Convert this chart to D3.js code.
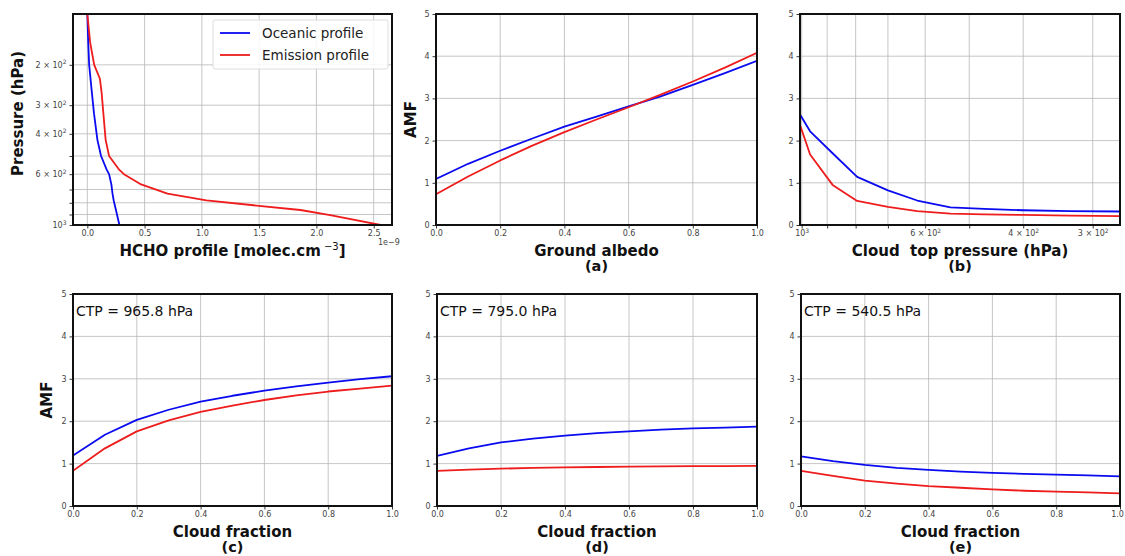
<!DOCTYPE html>
<html><head><meta charset="utf-8">
<script src="https://cdn.jsdelivr.net/npm/d3@7"></script>
<style>body{margin:0;background:#fff}svg{display:block;font-family:"DejaVu Sans",sans-serif}</style>
</head><body><svg id="c" width="1125" height="556"></svg>
<script>
// ---- Data ----
const profilePressure = [120,160,200,230,265,325,425,500,575,600,665,730,780,820,860,905,1000];
const oceanicProfile  = [0.0,0.008,0.016,0.028,0.04,0.058,0.088,0.12,0.17,0.19,0.21,0.22,0.23,0.24,0.25,0.26,0.28];
const emissionProfile = [0.0,0.025,0.06,0.11,0.125,0.14,0.16,0.19,0.28,0.32,0.47,0.70,1.04,1.45,1.86,2.12,2.56];

const albedo = [0,0.1,0.2,0.3,0.4,0.5,0.6,0.7,0.8,0.9,1.0];
const amfAlbedoOcean    = [1.09,1.45,1.76,2.05,2.33,2.57,2.81,3.05,3.32,3.60,3.89];
const amfAlbedoEmission = [0.73,1.15,1.53,1.88,2.20,2.50,2.79,3.09,3.40,3.73,4.08];

const ctp = [1005,965.8,880,795,700,620,540.5,470,400,330,268];
const amfCtpOcean    = [2.6,2.22,1.7,1.14,0.82,0.58,0.42,0.38,0.35,0.33,0.32];
const amfCtpEmission = [2.34,1.67,0.95,0.57,0.43,0.33,0.27,0.25,0.24,0.22,0.21];

const cloudFraction = [0,0.1,0.2,0.3,0.4,0.5,0.6,0.7,0.8,0.9,1.0];
const amfC_Ocean    = [1.19,1.68,2.03,2.27,2.46,2.60,2.72,2.82,2.91,2.99,3.06];
const amfC_Emission = [0.83,1.36,1.76,2.02,2.22,2.37,2.50,2.61,2.70,2.77,2.84];
const amfD_Ocean    = [1.18,1.36,1.50,1.59,1.66,1.72,1.76,1.80,1.83,1.85,1.87];
const amfD_Emission = [0.83,0.86,0.88,0.90,0.91,0.92,0.93,0.935,0.94,0.94,0.945];
const amfE_Ocean    = [1.17,1.06,0.97,0.90,0.85,0.81,0.78,0.76,0.74,0.72,0.70];
const amfE_Emission = [0.83,0.71,0.60,0.53,0.47,0.43,0.39,0.36,0.34,0.32,0.30];

const ctpLabels = ["CTP = 965.8 hPa","CTP = 795.0 hPa","CTP = 540.5 hPa"];
const seriesNames = ["Oceanic profile","Emission profile"];
const amfTicks = [0,1,2,3,4,5];
const fracTicks = [0,0.2,0.4,0.6,0.8,1.0];
const profXTicks = [0,0.5,1.0,1.5,2.0,2.5];
const profYGrid = [200,300,400,500,600,700,800,900,1000];
const profYLabels = {200:["2 × 10","2"],300:["3 × 10","2"],400:["4 × 10","2"],600:["6 × 10","2"],1000:["10","3"]};
const ctpGrid = [1000,900,800,700,600,500,400,300];
const ctpLabelsMap = {1000:["10","3"],600:["6 × 10","2"],400:["4 × 10","2"],300:["3 × 10","2"]};

// ---- Drawing ----
const svg = d3.select("#c");
svg.append("rect").attr("width",1125).attr("height",556).attr("fill","#fff");
const BLUE="#0a0af0", RED="#ee1c1c";
let clipId=0;

function expLabel(map){
  return function(sel){
    sel.each(function(d){
      const t=d3.select(this); t.text("");
      const v=map[d]; if(!v) return;
      t.append("tspan").text(v[0]);
      t.append("tspan").attr("dy",-3.5).attr("font-size",6).text(v[1]);
    });
  };
}

function panel(o){
  const g = svg.append("g");
  const x=o.x, y=o.y;
  const [x0,x1]=x.range(), [y1,y0]=y.range();
  const id="clip"+(clipId++);
  svg.append("clipPath").attr("id",id).append("rect")
    .attr("x",x0).attr("y",y0).attr("width",x1-x0).attr("height",y1-y0);
  g.selectAll(".gx").data(o.xGrid).join("line")
    .attr("x1",d=>x(d)).attr("x2",d=>x(d)).attr("y1",y0).attr("y2",y1)
    .attr("stroke","#b8b8b8").attr("stroke-width",0.8);
  g.selectAll(".gy").data(o.yGrid).join("line")
    .attr("y1",d=>y(d)).attr("y2",d=>y(d)).attr("x1",x0).attr("x2",x1)
    .attr("stroke","#b8b8b8").attr("stroke-width",0.8);
  const lg = g.append("g").attr("clip-path",`url(#${id})`);
  o.series.forEach(s=>{
    const line = o.swap
      ? d3.line().x(d=>x(d[1])).y(d=>y(d[0]))
      : d3.line().x(d=>x(d[0])).y(d=>y(d[1]));
    lg.append("path").datum(d3.zip(s.xs,s.ys)).attr("d",line)
      .attr("fill","none").attr("stroke",s.color).attr("stroke-width",1.8)
      .attr("stroke-linejoin","round");
  });
  const xt = g.append("g").attr("transform",`translate(0,${y1})`)
    .call(d3.axisBottom(x).tickValues(o.xTicks).tickSize(3.5).tickPadding(2).tickFormat(o.xFmt||(()=>"")));
  const yt = g.append("g").attr("transform",`translate(${x0},0)`)
    .call(d3.axisLeft(y).tickValues(o.yTicks).tickSize(3.5).tickPadding(3).tickFormat(o.yFmt||(()=>"")));
  [xt,yt].forEach(a=>{
    a.select(".domain").remove();
    a.selectAll("line").attr("stroke","#222").attr("stroke-width",0.9);
    a.selectAll("text").attr("font-size",8).attr("fill","#444").attr("font-family","DejaVu Sans");
  });
  if(o.xExp) xt.selectAll(".tick text").call(expLabel(o.xExp));
  if(o.yExp) yt.selectAll(".tick text").call(expLabel(o.yExp));
  if(o.lastTickShift) xt.selectAll(".tick text").filter((d,i,n)=>i===n.length-1).attr("dx",o.lastTickShift);
  g.append("rect").attr("x",x0).attr("y",y0).attr("width",x1-x0).attr("height",y1-y0)
    .attr("fill","none").attr("stroke","#111").attr("stroke-width",2);
  if(o.xLabel){
    const t=g.append("text").attr("x",(x0+x1)/2).attr("y",y1+31).attr("text-anchor","middle")
      .attr("font-size",15).attr("font-weight","bold").attr("fill","#111");
    o.xLabel(t);
  }
  if(o.sub){
    g.append("text").attr("x",(x0+x1)/2).attr("y",y1+46).attr("text-anchor","middle")
      .attr("font-size",14.5).attr("font-weight","bold").attr("fill","#111").text(o.sub);
  }
  if(o.yLabel){
    g.append("text").attr("transform",`translate(${o.yLabelX},${(y0+y1)/2+o.yLabelDy}) rotate(-90)`)
      .attr("text-anchor","middle").attr("font-size",15).attr("font-weight","bold")
      .attr("fill","#111").text(o.yLabel);
  }
  if(o.note){
    g.append("text").attr("x",x0+3).attr("y",y0+22).attr("font-size",14).attr("fill","#111").text(o.note);
  }
  return g;
}

const fmt1 = d3.format(".1f");
const top0=14, top1=225, bot0=294, bot1=506;

// Panel 0: profile
const p0x = d3.scaleLinear().domain([-0.125,2.66]).range([73,392]);
const p0y = d3.scaleLog().domain([1000,120]).range([top1,top0]);
const g0 = panel({x:p0x,y:p0y,swap:true,
  xGrid:profXTicks,yGrid:profYGrid,xTicks:profXTicks,xFmt:fmt1,
  yTicks:profYGrid,yExp:profYLabels,
  series:[{xs:profilePressure,ys:oceanicProfile,color:BLUE},{xs:profilePressure,ys:emissionProfile,color:RED}],
  xLabel:t=>{t.append("tspan").text("HCHO profile [molec.cm");
    t.append("tspan").attr("dy",-6).attr("font-size",10).attr("font-weight","normal").text(" −3");
    t.append("tspan").attr("dy",6).text("]");},
  yLabel:"Pressure (hPa)",yLabelX:23,yLabelDy:-6});
g0.append("text").attr("x",378).attr("y",245).attr("text-anchor","start")
  .attr("font-size",8).attr("fill","#444").text("1e−9");
const lgd = g0.append("g");
lgd.append("rect").attr("x",213).attr("y",20).attr("width",175).attr("height",49)
  .attr("fill","#fff").attr("fill-opacity",0.85).attr("stroke","#ddd").attr("rx",2);
[BLUE,RED].forEach((c,i)=>{
  lgd.append("line").attr("x1",220).attr("x2",250).attr("y1",33+i*22).attr("y2",33+i*22)
    .attr("stroke",c).attr("stroke-width",1.8);
  lgd.append("text").attr("x",262).attr("y",38+i*22).attr("font-size",13.5).attr("fill","#222").text(seriesNames[i]);
});

// Panel a
const pax = d3.scaleLinear().domain([0,1]).range([436,757]);
const pay = d3.scaleLinear().domain([0,5]).range([top1,top0]);
panel({x:pax,y:pay,xGrid:fracTicks,yGrid:amfTicks,xTicks:fracTicks,xFmt:fmt1,yTicks:amfTicks,yFmt:d3.format("d"),
  series:[{xs:albedo,ys:amfAlbedoOcean,color:BLUE},{xs:albedo,ys:amfAlbedoEmission,color:RED}],
  xLabel:t=>t.text("Ground albedo"),sub:"(a)",yLabel:"AMF",yLabelX:416,yLabelDy:0});

// Panel b
const pbx = d3.scaleLog().domain([1007,268]).range([800,1120]);
const pby = d3.scaleLinear().domain([0,5]).range([top1,top0]);
panel({x:pbx,y:pby,xGrid:ctpGrid,yGrid:amfTicks,xTicks:ctpGrid,xExp:ctpLabelsMap,yTicks:amfTicks,yFmt:d3.format("d"),
  series:[{xs:ctp,ys:amfCtpOcean,color:BLUE},{xs:ctp,ys:amfCtpEmission,color:RED}],
  xLabel:t=>t.text("Cloud  top pressure (hPa)").attr("xml:space","preserve"),sub:"(b)"});

// Panels c,d,e
const lefts=[[73,392],[437,757],[801,1120]];
const sets=[[amfC_Ocean,amfC_Emission],[amfD_Ocean,amfD_Emission],[amfE_Ocean,amfE_Emission]];
["(c)","(d)","(e)"].forEach((s,i)=>{
  const x=d3.scaleLinear().domain([0,1]).range(lefts[i]);
  const y=d3.scaleLinear().domain([0,5]).range([bot1,bot0]);
  panel({x,y,xGrid:fracTicks,yGrid:amfTicks,xTicks:fracTicks,xFmt:fmt1,yTicks:amfTicks,yFmt:d3.format("d"),
    series:[{xs:cloudFraction,ys:sets[i][0],color:BLUE},{xs:cloudFraction,ys:sets[i][1],color:RED}],
    xLabel:t=>t.text("Cloud fraction"),sub:s,note:ctpLabels[i],
    yLabel:i===0?"AMF":null,yLabelX:52,yLabelDy:0,lastTickShift:i===2?-3:0});
});
</script></body></html>
